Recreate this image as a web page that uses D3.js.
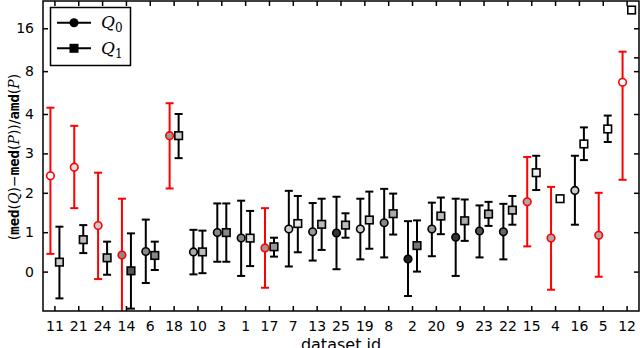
<!DOCTYPE html>
<html>
<head>
<meta charset="utf-8">
<script src="https://cdn.jsdelivr.net/npm/d3@7"></script>
<style>
  body { margin: 0; background: #fff; }
  svg { display: block; }
  text { font-family: "DejaVu Sans", sans-serif; }
</style>
</head>
<body>
<svg id="chart"></svg>
<script>
const categories = ["11","21","24","14","6","18","10","3","1","17","7","13","25","19","8","2","20","9","23","22","15","4","16","5","12"];

const q0Med = [2.43,2.65,1.17,0.42,0.51,3.45,0.50,0.99,0.85,0.60,1.08,1.01,0.98,1.08,1.24,0.32,1.08,0.87,1.03,1.01,1.77,0.85,2.06,0.92,6.68];
const q0Lo  = [0.45,1.61,-0.19,-1.3,-0.29,2.11,-0.07,0.25,-0.11,-0.41,0.13,0.28,0.06,0.31,0.36,-0.62,0.39,-0.11,0.36,0.31,0.64,-0.46,1.19,-0.13,2.33];
const q0Hi  = [4.43,3.70,2.51,1.85,1.32,4.76,1.06,1.73,1.80,1.61,2.05,1.74,1.90,1.85,2.10,1.28,1.75,1.85,1.68,1.72,2.91,2.15,2.94,2.00,10.96];
const q0Fill = ["#fff","#ddd","#ccc","#888","#888","#999","#aaa","#888","#888","#999","#ccc","#999","#333","#ccc","#888","#222","#999","#333","#555","#666","#aaa","#aaa","#ccc","#aaa","#fff"];
const q0Red = [1,1,1,1,0,1,0,0,0,1,0,0,0,0,0,0,0,0,0,0,1,1,0,1,1];

const q1Med = [0.24,0.81,0.35,0.02,0.41,3.45,0.50,0.99,0.85,0.63,1.22,1.20,1.18,1.31,1.47,0.66,1.41,1.29,1.46,1.56,2.51,1.85,3.24,3.62,21.5];
const q1Lo  = [-0.68,0.47,-0.08,-0.94,0.04,2.88,-0.04,0.25,0.14,0.38,0.49,0.55,0.86,0.58,0.94,0.0,0.95,0.78,1.16,1.19,2.07,1.85,2.83,3.29,21.5];
const q1Hi  = [1.14,1.18,0.76,0.97,0.76,4.0,1.04,1.73,1.54,0.86,1.92,1.85,1.48,2.03,1.98,1.30,1.88,1.83,1.77,1.92,2.94,1.85,3.66,3.96,21.5];
const q1Fill = ["#ccc","#bbb","#aaa","#555","#888","#ccc","#bbb","#888","#ddd","#999","#e5e5e5","#bbb","#bbb","#ccc","#aaa","#777","#bbb","#aaa","#aaa","#bbb","#eee","#fff","#fff","#fff","#fff"];

const yTicks = [0, 1, 2, 3, 4, 8, 16];
const yTicksRight = [0, 1, 2, 3, 4, 8, 10, 16];

const W = 640, H = 348;
const margin = { top: 1, right: 1, bottom: 37, left: 43 };
const width = W - margin.left - margin.right;
const height = H - margin.top - margin.bottom;

// linear up to 4, log2 above
const K = 1.0876;
const tf = v => v <= 4 ? v : 4 + K * Math.log2(v / 4);

const x = d3.scaleBand().domain(categories).range([0, width]);
const yl = d3.scaleLinear().domain([-1, 6.868]).range([height, 0]);
const y = v => yl(tf(v));

const svg = d3.select('#chart').attr('width', W).attr('height', H);
const g = svg.append('g').attr('transform', `translate(${margin.left},${margin.top})`);

g.append('clipPath').attr('id', 'clip')
  .append('rect').attr('width', width).attr('height', height);

const plot = g.append('g').attr('clip-path', 'url(#clip)');

function drawSeries(med, lo, hi, fill, red, dx, shape) {
  categories.forEach((c, i) => {
    const cx = x(c) + x.bandwidth() / 2 + dx;
    const col = red && red[i] ? '#ff0000' : '#000';
    if (hi[i] !== lo[i]) {
      plot.append('line').attr('x1', cx).attr('x2', cx)
        .attr('y1', y(lo[i])).attr('y2', y(hi[i]))
        .attr('stroke', col).attr('stroke-width', 2);
      [lo[i], hi[i]].forEach(v => {
        plot.append('line').attr('x1', cx - 4).attr('x2', cx + 4)
          .attr('y1', y(v)).attr('y2', y(v))
          .attr('stroke', col).attr('stroke-width', 2);
      });
    }
    if (shape === 'circle') {
      plot.append('circle').attr('cx', cx).attr('cy', y(med[i])).attr('r', 3.8)
        .attr('fill', fill[i]).attr('stroke', col).attr('stroke-width', 1.6);
    } else {
      plot.append('rect').attr('x', cx - 3.8).attr('y', y(med[i]) - 3.8)
        .attr('width', 7.6).attr('height', 7.6)
        .attr('fill', fill[i]).attr('stroke', col).attr('stroke-width', 1.6);
    }
  });
}

drawSeries(q0Med, q0Lo, q0Hi, q0Fill, q0Red, -4.5, 'circle');
drawSeries(q1Med, q1Lo, q1Hi, q1Fill, null, 4.5, 'square');

// frame
g.append('rect').attr('width', width).attr('height', height)
  .attr('fill', 'none').attr('stroke', '#000').attr('stroke-width', 1.5);

// x ticks (inward, top and bottom)
const xa = g.append('g').attr('transform', `translate(0,${height})`)
  .call(d3.axisBottom(x).tickSize(-5).tickPadding(10));
const xt = g.append('g')
  .call(d3.axisTop(x).tickSize(-5).tickFormat(''));

// y ticks (inward)
const ya = g.append('g')
  .call(d3.axisLeft(yl).tickValues(yTicks.map(tf)).tickFormat((d, i) => yTicks[i]).tickSize(-5).tickPadding(9));
const yr = g.append('g').attr('transform', `translate(${width},0)`)
  .call(d3.axisRight(yl).tickValues(yTicksRight.map(tf)).tickSize(-5).tickFormat(''));

[xa, xt, ya, yr].forEach(a => {
  a.select('.domain').remove();
  a.selectAll('.tick line').attr('stroke', '#000').attr('stroke-width', 1.5);
  a.selectAll('.tick text').attr('fill', '#000')
    .style('font-family', '"DejaVu Sans", sans-serif').style('font-size', '14px');
});

// x label (cut at the bottom edge, as in the original)
svg.append('text').attr('x', margin.left + width / 2).attr('y', 350)
  .attr('text-anchor', 'middle').style('font-size', '16px').text('dataset id');

// y label
const yl1 = svg.append('text')
  .attr('transform', `translate(14,157) rotate(-90)`)
  .attr('text-anchor', 'middle').attr('dy', '0.35em')
  .style('font-size', '14px');
const mono = '"DejaVu Sans Mono", monospace';
const ser = '"DejaVu Serif", serif';
[['(', null], ['med', mono], ['(', null], ['Q', ser, 1], [')−', null], ['med', mono], ['(', null], ['P', ser, 1], ['))/', null], ['amd', mono], ['(', null], ['P', ser, 1], [')', null]]
  .forEach(([t, f, it]) => {
    const s = yl1.append('tspan').text(t);
    if (f) s.style('font-family', f);
    if (f === mono) s.style('font-weight', 'bold');
    if (it) s.style('font-style', 'italic');
  });

// legend
const lg = svg.append('g');
lg.append('rect').attr('x', 50.5).attr('y', 7.5).attr('width', 80).attr('height', 58)
  .attr('fill', '#fff').attr('stroke', '#000').attr('stroke-width', 1.5);
[['0', 22.7, 'circle'], ['1', 48.3, 'square']].forEach(([sub, ly, shp]) => {
  lg.append('line').attr('x1', 57).attr('x2', 91).attr('y1', ly).attr('y2', ly)
    .attr('stroke', '#000').attr('stroke-width', 2);
  if (shp === 'circle') {
    lg.append('circle').attr('cx', 74).attr('cy', ly).attr('r', 4.5).attr('fill', '#000');
  } else {
    lg.append('rect').attr('x', 69.5).attr('y', ly - 4.5).attr('width', 9).attr('height', 9).attr('fill', '#000');
  }
  const t = lg.append('text').attr('x', 101).attr('y', ly + 5.5)
    .style('font-family', ser).style('font-size', '17px');
  t.append('tspan').style('font-style', 'italic').text('Q');
  t.append('tspan').attr('dy', 4).style('font-size', '12px').text(sub);
});
</script>
</body>
</html>
